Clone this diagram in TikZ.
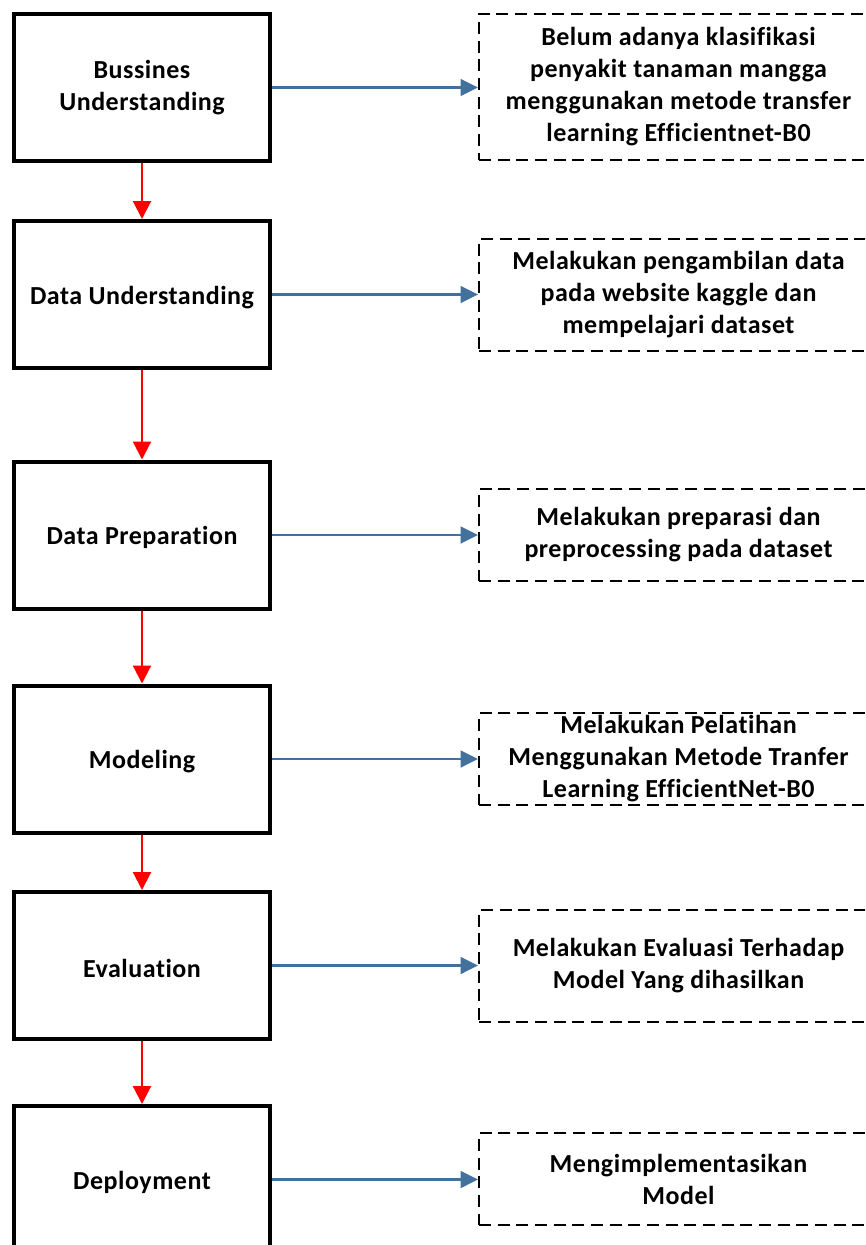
\documentclass[tikz,border=0pt]{standalone}
\usepackage{fontspec}
\setmainfont{Carlito}[LetterSpace=2, Ligatures=NoCommon]
\usetikzlibrary{arrows.meta}
\definecolor{linkblue}{HTML}{41719C}
\tikzset{
  boxtext/.style={align=center, font=\fontsize{19.5}{24}\selectfont\bfseries, inner sep=0pt,
    execute at begin node={\rule{0pt}{18pt}}},
  phase/.style={boxtext, draw=black, line width=3pt, minimum width=192pt, minimum height=110.25pt},
  note/.style={boxtext, draw=black, line width=1.5pt, dash pattern=on 9pt off 5pt, minimum width=299.25pt},
  flow/.style={draw=red, line width=1.6pt, -{Triangle[length=13.5pt, width=13.5pt]}},
  link/.style={draw=linkblue, line width=1.8pt, -{Triangle[length=13pt, width=12.5pt]}}
}
\begin{document}
\begin{tikzpicture}[x=0.75pt, y=-0.75pt]
\useasboundingbox (0,0) rectangle (865,1245);
\clip (0,0) rectangle (865,1245);
\fill[white] (0,0) rectangle (865,1245);

% CRISP-DM phases
\node[phase] (p1) at (142,87.5) {Bussines\\Understanding};
\node[phase] (p2) at (142,294.5) {Data Understanding};
\node[phase] (p3) at (142,535) {Data Preparation};
\node[phase] (p4) at (142,759) {Modeling};
\node[phase] (p5) at (142,965.5) {Evaluation};
\node[phase] (p6) at (142,1179.5) {Deployment};

% descriptions of each phase
\node[note, minimum height=109.5pt] (n1) at (678.5,87) {Belum adanya klasifikasi\\penyakit tanaman mangga\\menggunakan metode transfer\\learning Efficientnet-B0};
\node[note, minimum height=84pt] (n2) at (678.5,295) {Melakukan pengambilan data\\pada website kaggle dan\\mempelajari dataset};
\node[note, minimum height=69pt] (n3) at (678.5,535) {Melakukan preparasi dan\\preprocessing pada dataset};
\node[note, minimum height=69pt] (n4) at (678.5,759) {Melakukan Pelatihan\\Menggunakan Metode Tranfer\\Learning EfficientNet-B0};
\node[note, minimum height=84pt] (n5) at (678.5,966) {Melakukan Evaluasi Terhadap\\Model Yang dihasilkan};
\node[note, minimum height=69pt] (n6) at (678.5,1179) {Mengimplementasikan\\Model};

% sequence of phases
\draw[flow] (p1) -- (p2);
\draw[flow] (p2) -- (p3);
\draw[flow] (p3) -- (p4);
\draw[flow] (p4) -- (p5);
\draw[flow] (p5) -- (p6);

% phase to description
\foreach \i in {1,...,6} {
  \draw[link] (p\i.east) -- (p\i.east -| n\i.west);
}
\end{tikzpicture}
\end{document}
